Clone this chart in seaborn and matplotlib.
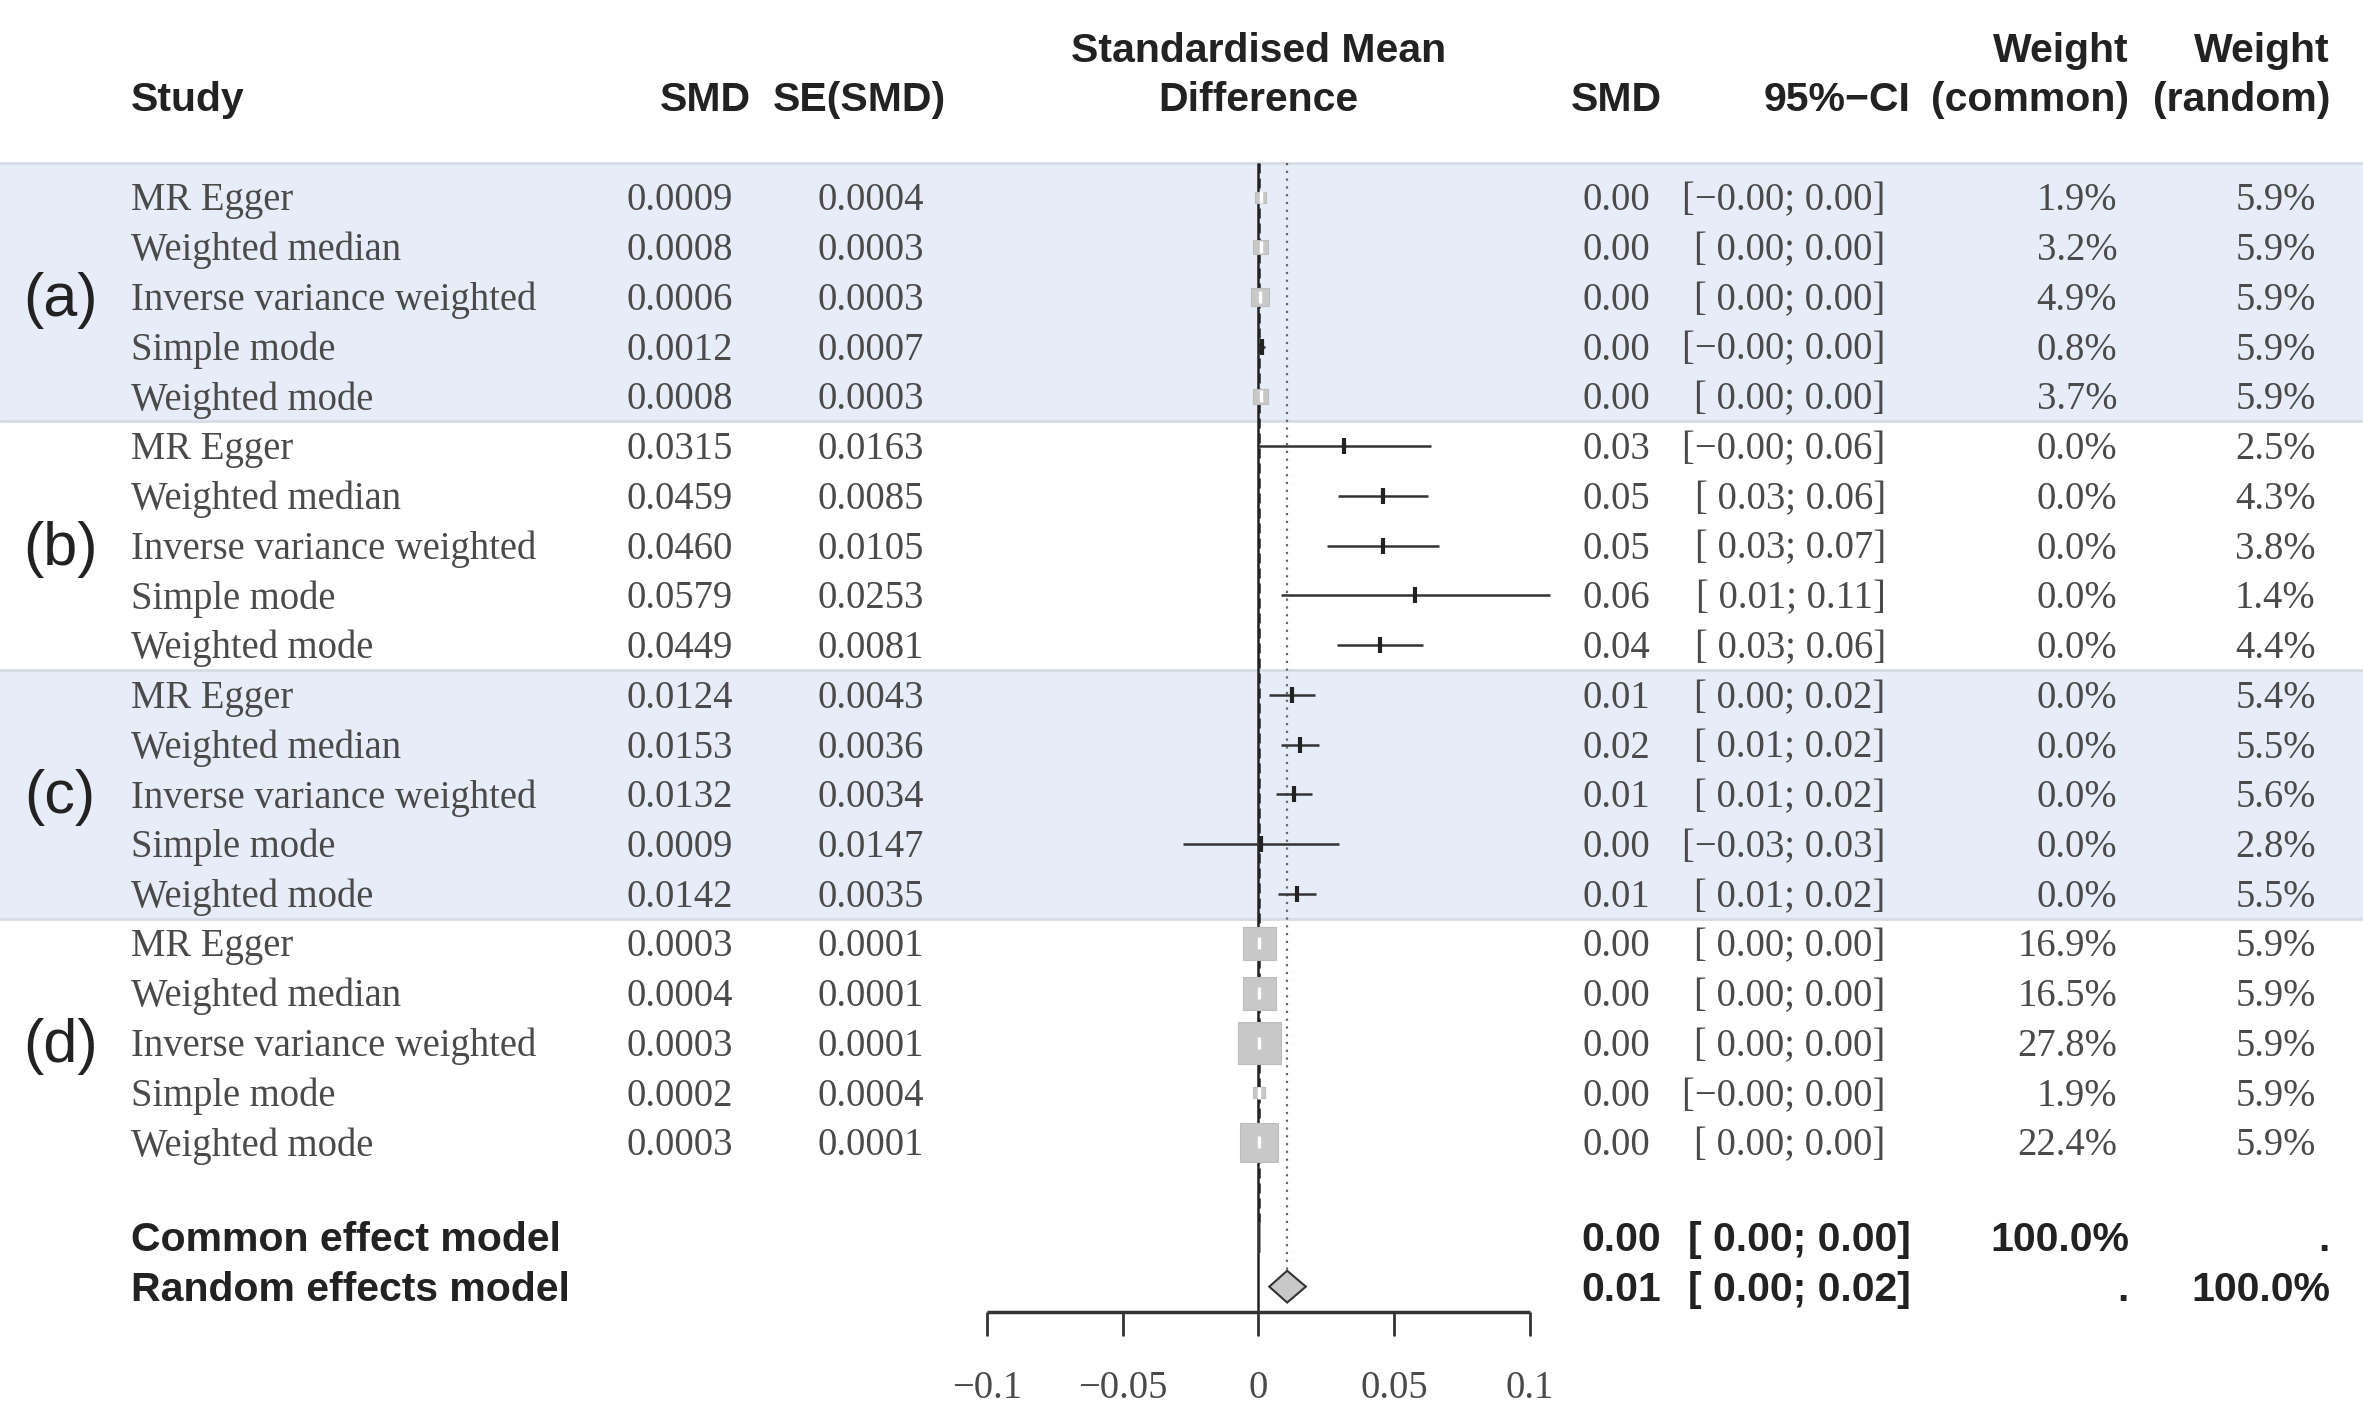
"""
Forest plot of MR estimates (four exposures, five methods each).
"""

import numpy as np
import pandas as pd
import seaborn as sns
import matplotlib.pyplot as plt
from matplotlib.patches import Polygon


groups = ['(a)', '(b)', '(c)', '(d)']
methods = ['MR Egger', 'Weighted median', 'Inverse variance weighted', 'Simple mode', 'Weighted mode']

smd = [0.0009, 0.0008, 0.0006, 0.0012, 0.0008,
       0.0315, 0.0459, 0.0460, 0.0579, 0.0449,
       0.0124, 0.0153, 0.0132, 0.0009, 0.0142,
       0.0003, 0.0004, 0.0003, 0.0002, 0.0003]
se = [0.0004, 0.0003, 0.0003, 0.0007, 0.0003,
      0.0163, 0.0085, 0.0105, 0.0253, 0.0081,
      0.0043, 0.0036, 0.0034, 0.0147, 0.0035,
      0.0001, 0.0001, 0.0001, 0.0004, 0.0001]
smd_round = ['0.00', '0.00', '0.00', '0.00', '0.00',
             '0.03', '0.05', '0.05', '0.06', '0.04',
             '0.01', '0.02', '0.01', '0.00', '0.01',
             '0.00', '0.00', '0.00', '0.00', '0.00']
ci_labels = ['[\u22120.00; 0.00]', '[ 0.00; 0.00]', '[ 0.00; 0.00]', '[\u22120.00; 0.00]', '[ 0.00; 0.00]',
             '[\u22120.00; 0.06]', '[ 0.03; 0.06]', '[ 0.03; 0.07]', '[ 0.01; 0.11]', '[ 0.03; 0.06]',
             '[ 0.00; 0.02]', '[ 0.01; 0.02]', '[ 0.01; 0.02]', '[\u22120.03; 0.03]', '[ 0.01; 0.02]',
             '[ 0.00; 0.00]', '[ 0.00; 0.00]', '[ 0.00; 0.00]', '[\u22120.00; 0.00]', '[ 0.00; 0.00]']
w_common = [1.9, 3.2, 4.9, 0.8, 3.7,
            0.0, 0.0, 0.0, 0.0, 0.0,
            0.0, 0.0, 0.0, 0.0, 0.0,
            16.9, 16.5, 27.8, 1.9, 22.4]
w_random = [5.9, 5.9, 5.9, 5.9, 5.9,
            2.5, 4.3, 3.8, 1.4, 4.4,
            5.4, 5.5, 5.6, 2.8, 5.5,
            5.9, 5.9, 5.9, 5.9, 5.9]

# pooled estimates
common_est, common_lo, common_hi = 0.0003, 0.0002, 0.0004
random_est, random_lo, random_hi = 0.0106, 0.0040, 0.0175
common_txt = ['0.00', '[ 0.00; 0.00]', '100.0%', '.']
random_txt = ['0.01', '[ 0.00; 0.02]', '.', '100.0%']

x_ticks = [-0.1, -0.05, 0, 0.05, 0.1]
x_ticklabels = ['\u22120.1', '\u22120.05', '0', '0.05', '0.1']


df = pd.DataFrame({
    'group': np.repeat(groups, len(methods)),
    'method': methods * len(groups),
    'smd': smd, 'se': se, 'w_common': w_common, 'w_random': w_random,
})
df['row'] = np.arange(len(df))
df['lo'] = df.smd - 1.96 * df.se
df['hi'] = df.smd + 1.96 * df.se

sns.set_theme(style='white')
plt.rcParams['font.family'] = ['Liberation Sans', 'DejaVu Sans']

BODY = dict(family='Liberation Serif', fontsize=27.8, color='#4a4a4a')
HEAD = dict(family='Liberation Sans', fontsize=29.5, fontweight='bold', color='#222222')
BAND = '#e7edf8'
BAND_EDGE = '#d6dce6'
DY = 0.07  # text sits a touch below the row centre

fig = plt.figure(figsize=(23.63, 14.09), dpi=100)
ax = fig.add_axes([0, 0, 1, 1])
ax.set_xlim(-0.4639, 0.4072)
ax.set_ylim(24.36, -3.97)
ax.axis('off')
tr = ax.get_yaxis_transform()

# shaded bands for (a) and (c)
for g0 in (0, 10):
    top = -0.7 if g0 == 0 else g0 - 0.5
    ax.axhspan(top, g0 + 4.5, color=BAND, zorder=0, lw=0)
    ax.axhline(top, color=BAND_EDGE, lw=2, zorder=0.5)
    ax.axhline(g0 + 4.5, color=BAND_EDGE, lw=2, zorder=0.5)

# reference lines
ax.vlines(0, -0.7, 22.4, color='#222222', lw=1.8, zorder=2)
ax.vlines(common_est, -0.7, 20.6, color='#222222', lw=1.8, linestyles=(0, (4, 2)), zorder=2)
ax.vlines(random_est, -0.7, 21.6, color='#666666', lw=1.6, linestyles=(0, (1, 2.5)), zorder=2)

# confidence intervals
ax.hlines(df.row, df.lo, df.hi, color='#333333', lw=1.8, zorder=3)

# weighted squares
big = df[df.w_common >= 1]
sns.scatterplot(data=big, x='smd', y='row', size='w_common', sizes=(0, 34 * 27.8),
                size_norm=(0, 27.8), marker='s', color='#c8c8c8', edgecolor='#bdbdbd',
                linewidth=0.8, legend=False, ax=ax, zorder=4)
ax.plot(big.smd, big.row, ls='none', marker='|', ms=9, mew=2.5, color='white', zorder=5)
small = df[df.w_common < 1]
ax.plot(small.smd, small.row, ls='none', marker='|', ms=11, mew=3, color='#222222', zorder=5)

# pooled diamonds
for y, est, lo, hi in [(20.9, common_est, common_lo, common_hi), (21.9, random_est, random_lo, random_hi)]:
    ax.add_patch(Polygon([(lo, y), (est, y - 0.32), (hi, y), (est, y + 0.32)], closed=True,
                         facecolor='#c8c8c8', edgecolor='#333333', lw=1.5, zorder=6))

# x axis
ax.hlines(22.4, x_ticks[0], x_ticks[-1], color='#333333', lw=2.5, zorder=3)
ax.vlines(x_ticks, 22.4, 22.9, color='#333333', lw=2, zorder=3)
for xt, lab in zip(x_ticks, x_ticklabels):
    ax.text(xt, 23.95, lab, ha='center', va='center', **BODY)

# header
hy1, hy2 = -2.95, -1.95
ax.text(0.0555, hy2, 'Study', ha='left', va='center', transform=tr, **HEAD)
ax.text(0.3176, hy2, 'SMD', ha='right', va='center', transform=tr, **HEAD)
ax.text(0.4005, hy2, 'SE(SMD)', ha='right', va='center', transform=tr, **HEAD)
ax.text(0.5325, hy1, 'Standardised Mean', ha='center', va='center', transform=tr, **HEAD)
ax.text(0.5325, hy2, 'Difference', ha='center', va='center', transform=tr, **HEAD)
ax.text(0.7034, hy2, 'SMD', ha='right', va='center', transform=tr, **HEAD)
ax.text(0.8087, hy2, '95%\u2212CI', ha='right', va='center', transform=tr, **HEAD)
ax.text(0.9010, hy1, 'Weight', ha='right', va='center', transform=tr, **HEAD)
ax.text(0.9010, hy2, '(common)', ha='right', va='center', transform=tr, **HEAD)
ax.text(0.9860, hy1, 'Weight', ha='right', va='center', transform=tr, **HEAD)
ax.text(0.9860, hy2, '(random)', ha='right', va='center', transform=tr, **HEAD)

# study rows
for i, r in df.iterrows():
    y = r.row + DY
    ax.text(0.0555, y, r.method, ha='left', va='center', transform=tr, **BODY)
    ax.text(0.3100, y, f'{r.smd:.4f}', ha='right', va='center', transform=tr, **BODY)
    ax.text(0.3910, y, f'{r.se:.4f}', ha='right', va='center', transform=tr, **BODY)
    ax.text(0.6983, y, smd_round[i], ha='right', va='center', transform=tr, **BODY)
    ax.text(0.7980, y, ci_labels[i], ha='right', va='center', transform=tr, **BODY)
    ax.text(0.8960, y, f'{r.w_common:.1f}%', ha='right', va='center', transform=tr, **BODY)
    ax.text(0.9800, y, f'{r.w_random:.1f}%', ha='right', va='center', transform=tr, **BODY)

for k, g in enumerate(groups):
    ax.text(0.0255, k * 5 + 2 + DY, g, ha='center', va='center', transform=tr,
            family='Liberation Sans', fontsize=44, color='#222222')

# pooled rows
for y, name, vals in [(20.9, 'Common effect model', common_txt), (21.9, 'Random effects model', random_txt)]:
    ax.text(0.0555, y + DY, name, ha='left', va='center', transform=tr, **HEAD)
    for xr, v in zip([0.7028, 0.8087, 0.9010, 0.9860], vals):
        ax.text(xr, y + DY, v, ha='right', va='center', transform=tr, **HEAD)

fig.savefig('out.png', dpi=100, facecolor='white')
